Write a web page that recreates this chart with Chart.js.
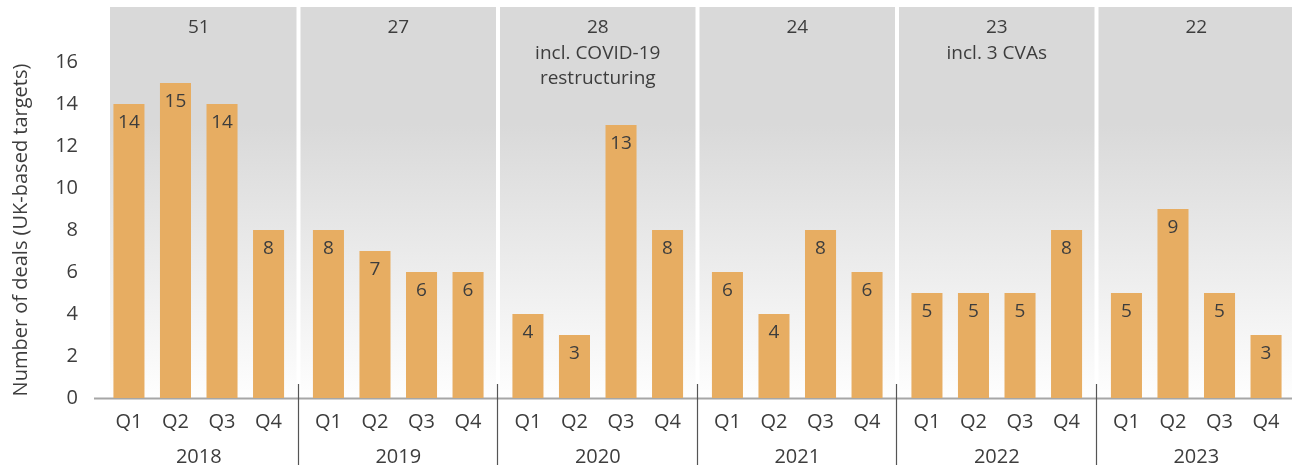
<!DOCTYPE html>
<html><head><meta charset="utf-8">
<script src="https://cdn.jsdelivr.net/npm/chart.js@4.4.0/dist/chart.umd.min.js"></script>
<style>html,body{margin:0;padding:0;overflow:hidden;background:#fff;} #wrap{width:1296px;height:473px;}</style>
</head><body><div id="wrap"><canvas id="c" width="1296" height="473"></canvas></div>
<script>
const years = ['2018', '2019', '2020', '2021', '2022', '2023'];
const quarters = ['Q1', 'Q2', 'Q3', 'Q4'];
const dealsQ1 = [14, 8, 4, 6, 5, 5];
const dealsQ2 = [15, 7, 3, 4, 5, 9];
const dealsQ3 = [14, 6, 13, 8, 5, 5];
const dealsQ4 = [8, 6, 8, 6, 8, 3];
const yearTotals = ['51', '27', '28', '24', '23', '22'];
const yearNotes = [[], [], ['incl. COVID-19', 'restructuring'], [], ['incl. 3 CVAs'], []];
const yTicks = [0, 2, 4, 6, 8, 10, 12, 14, 16];
const yTitle = 'Number of deals (UK-based targets)';

const FONT = "'Open Sans', sans-serif";
const TEXT = '#3d3d3d';
const BAR = '#E7AD62';

const series = [dealsQ1, dealsQ2, dealsQ3, dealsQ4];

const panelsPlugin = {
  id: 'panels',
  beforeDatasetsDraw(chart) {
    const { ctx, chartArea, scales: { x, y } } = chart;
    const n = years.length;
    const cw = x.width / n;
    const bottom = y.getPixelForValue(0);
    const top = 7;
    ctx.save();
    for (let i = 0; i < n; i++) {
      const c = x.getPixelForValue(i);
      let l = c - cw / 2 + 2, r = c + cw / 2 - 2;
      if (i === 0) l = chartArea.left + 11;
      const g = ctx.createLinearGradient(0, top, 0, bottom);
      g.addColorStop(0, '#d9d9d9');
      g.addColorStop(0.3, '#d9d9d9');
      g.addColorStop(1, '#fefefe');
      ctx.fillStyle = g;
      ctx.fillRect(l, top, r - l, bottom - top);
    }
    ctx.strokeStyle = '#a6a6a6';
    ctx.lineWidth = 2;
    ctx.beginPath();
    ctx.moveTo(chartArea.left - 5, bottom + 0.5);
    ctx.lineTo(chartArea.right, bottom + 0.5);
    ctx.stroke();
    ctx.restore();
  },
  afterDatasetsDraw(chart) {
    const { ctx, scales: { x } } = chart;
    const n = years.length;
    const cw = x.width / n;
    ctx.save();
    ctx.fillStyle = TEXT;
    ctx.textAlign = 'center';
    ctx.textBaseline = 'alphabetic';
    chart.data.datasets.forEach((ds, d) => {
      const meta = chart.getDatasetMeta(d);
      meta.data.forEach((el, i) => {
        ctx.font = '19px ' + FONT;
        ctx.fillText(String(ds.data[i]), el.x, el.y + 24);
        ctx.font = '20px ' + FONT;
        ctx.fillText(quarters[d], el.x, 428);
      });
    });
    for (let i = 0; i < n; i++) {
      const c = x.getPixelForValue(i);
      ctx.font = '19px ' + FONT;
      ctx.fillText(yearTotals[i], c, 33);
      yearNotes[i].forEach((t, k) => ctx.fillText(t, c, 59 + k * 24.5));
    }
    ctx.strokeStyle = '#555555';
    ctx.lineWidth = 1.2;
    for (let i = 1; i < n; i++) {
      const bx = Math.round(x.getPixelForValue(i) - cw / 2) - 0.5;
      ctx.beginPath();
      ctx.moveTo(bx, 384);
      ctx.lineTo(bx, 465);
      ctx.stroke();
    }
    ctx.restore();
  }
};

new Chart(document.getElementById('c'), {
  type: 'bar',
  data: {
    labels: years,
    datasets: series.map((s, k) => ({
      label: quarters[k],
      data: s,
      backgroundColor: BAR,
      borderWidth: 0,
      categoryPercentage: 0.933,
      barPercentage: 0.667
    }))
  },
  options: {
    responsive: false,
    animation: false,
    layout: { padding: { top: 62, right: 0, bottom: 0, left: 0 } },
    plugins: { legend: { display: false }, tooltip: { enabled: false } },
    scales: {
      x: {
        grid: { display: false, drawTicks: false },
        border: { display: false },
        ticks: { color: TEXT, font: { family: FONT, size: 20 }, padding: 47, maxRotation: 0 },
        afterFit(s) { s.height = 75; }
      },
      y: {
        min: 0, max: 16,
        grid: { display: false, drawTicks: false },
        border: { display: false },
        afterBuildTicks(s) { s.ticks = yTicks.map(v => ({ value: v })); },
        ticks: { color: TEXT, font: { family: FONT, size: 20 }, padding: 21 },
        title: { display: true, text: yTitle, color: TEXT, font: { family: FONT, size: 20 }, padding: { top: 9, bottom: 0 } },
        afterFit(s) { s.width = 99; }
      }
    }
  },
  plugins: [panelsPlugin]
});
</script>
</body></html>
